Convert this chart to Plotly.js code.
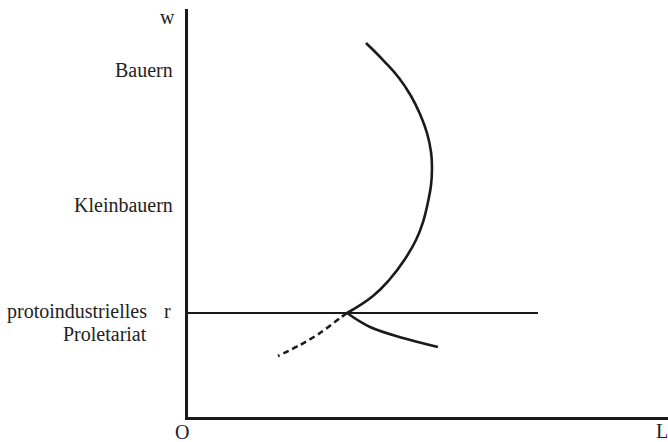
<!DOCTYPE html>
<html><head><meta charset="utf-8">
<script src="https://cdn.plot.ly/plotly-3.0.1.min.js"></script>
<style>html,body{margin:0;padding:0;background:#fff}</style>
</head><body><div id="chart" style="width:668px;height:442px"></div>
<script>
// Supply curve (upper, backward-bending branch)
const upperX = [33.13, 38.54, 42.08, 45.21, 47.5, 48.96, 50.0, 50.63, 50.83, 50.63, 49.79, 48.33, 46.46, 43.96, 40.83, 37.08];
const upperY = [25.49, 29.66, 33.82, 38.73, 43.38, 47.79, 52.70, 56.86, 61.03, 64.95, 69.61, 74.26, 78.68, 83.09, 87.25, 91.67];
// Lower solid branch
const lowerX = [33.13, 37.92, 44.79, 52.08];
const lowerY = [25.49, 22.06, 19.36, 17.16];
// Dashed continuation
const dashX = [33.13, 31.67, 27.5, 23.33, 18.75];
const dashY = [25.49, 24.26, 20.59, 17.65, 14.95];
// Horizontal line r
const rLineX = [0, 72.92];
const rLevel = 25.49;
// Left-side group labels (paper-fraction positions)
const groupLabels = ['Bauern', 'Kleinbauern', 'protoindustrielles', 'Proletariat'];
const groupY = [0.8505, 0.5196, 0.2598, 0.2034];
const groupRight = [-0.0313, -0.0313, -0.0854, -0.0854];
// Axis letters
const axisLetters = ['w', 'r', 'O', 'L'];
const axisLetterX = [-0.0417, -0.04375, -0.0125, 1.0];
const axisLetterY = [0.9804, 0.2598, -0.0368, -0.0343];

const ink = '#1a1a1a';
const traces = [
  {x: upperX, y: upperY, mode: 'lines', line: {color: ink, width: 2.6, shape: 'spline', smoothing: 1.3}, hoverinfo: 'skip'},
  {x: lowerX, y: lowerY, mode: 'lines', line: {color: ink, width: 2.6, shape: 'spline', smoothing: 1}, hoverinfo: 'skip'},
  {x: dashX, y: dashY, mode: 'lines', line: {color: ink, width: 2.6, shape: 'spline', smoothing: 1, dash: '6px,4px'}, hoverinfo: 'skip'},
  {x: rLineX, y: [rLevel, rLevel], mode: 'lines', line: {color: ink, width: 2}, hoverinfo: 'skip'}
];

const font = {family: '"Liberation Serif", "DejaVu Serif", serif', size: 20, color: '#222'};
const annotations = [];
groupLabels.forEach((t, i) => annotations.push({
  x: groupRight[i], y: groupY[i], xref: 'paper', yref: 'paper', text: t, showarrow: false,
  xanchor: 'right', yanchor: 'middle', font: font, borderpad: 0, borderwidth: 0
}));
axisLetters.forEach((t, i) => annotations.push({
  x: axisLetterX[i], y: axisLetterY[i], xref: 'paper', yref: 'paper', text: t, showarrow: false,
  xanchor: t === 'L' ? 'right' : 'center', yanchor: 'middle', font: font, borderpad: 0, borderwidth: 0
}));

const axisCommon = {range: [0, 100], showline: true, linewidth: 3, linecolor: ink,
  showgrid: false, zeroline: false, showticklabels: false, ticks: '', fixedrange: true};

Plotly.newPlot('chart', traces, {
  width: 668, height: 442,
  margin: {l: 188, r: 0, t: 9, b: 25, pad: 0},
  paper_bgcolor: '#fff', plot_bgcolor: '#fff',
  showlegend: false,
  xaxis: axisCommon,
  yaxis: axisCommon,
  annotations: annotations
}, {displayModeBar: false, staticPlot: true});
</script></body></html>
